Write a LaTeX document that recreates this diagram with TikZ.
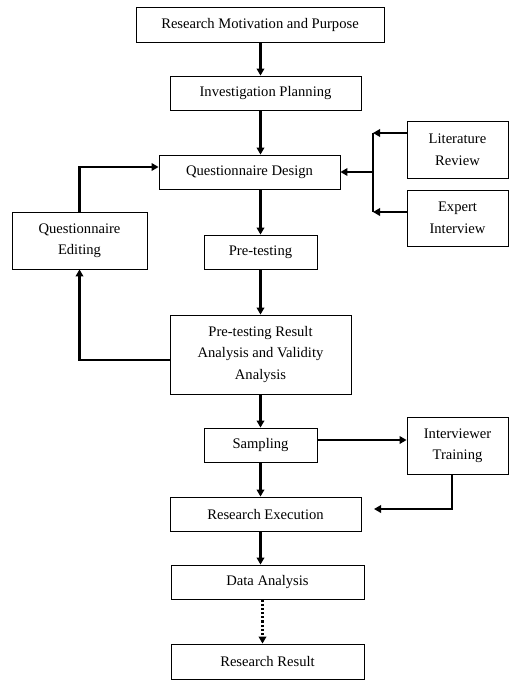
\documentclass[tikz,border=0pt]{standalone}
\usepackage{fontspec}
\setmainfont{Liberation Serif}
\usetikzlibrary{arrows.meta}
\begin{document}
\begin{tikzpicture}[x=1pt,y=-1pt,
  box/.style={draw, line width=0.8pt, inner sep=0pt, align=center, font=\fontsize{14.6}{21.5}\selectfont},
  arr/.style={line width=2.2pt, -{Triangle[length=7pt,width=7.5pt]}},
  dotarr/.style={line width=2.2pt, dotted, -{Triangle[length=7pt,width=7.5pt]}},
  bar/.style={line width=2.2pt}]
\useasboundingbox (0,0) rectangle (527,691);
\node[box, minimum width=248pt, minimum height=35pt] (rm) at (260,24.5) {Research Motivation and Purpose};
\node[box, minimum width=191pt, minimum height=34pt] (ip) at (265.5,93) {Investigation Planning};
\node[box, minimum width=181pt, minimum height=34pt] (qd) at (249.5,172) {Questionnaire Design};
\node[box, minimum width=101pt, minimum height=57pt] (lr) at (457.5,149.5) {Literature\\Review};
\node[box, minimum width=101pt, minimum height=56pt] (ei) at (457.5,218) {Expert\\Interview};
\node[box, minimum width=135pt, minimum height=57pt] (qe) at (79.5,240.5) {Questionnaire\\Editing};
\node[box, minimum width=113pt, minimum height=34pt] (pt) at (260.5,252) {Pre-testing};
\node[box, minimum width=181pt, minimum height=79pt] (pr) at (260.5,354.5) {Pre-testing Result\\Analysis and Validity\\Analysis};
\node[box, minimum width=113pt, minimum height=34pt] (sa) at (260.5,445) {Sampling};
\node[box, minimum width=101pt, minimum height=57pt] (it) at (457.5,445.5) {Interviewer\\Training};
\node[box, minimum width=191pt, minimum height=34pt] (re) at (265.5,514) {Research Execution};
\node[box, minimum width=193pt, minimum height=34pt] (da) at (267.5,582) {Data Analysis};
\node[box, minimum width=193pt, minimum height=35pt] (rr) at (267.5,661.5) {Research Result};
% main flow
\coordinate (mx) at (260.5,0);
\draw[arr] (rm.south -| mx) -- (ip.north -| mx);
\draw[arr] (ip.south -| mx) -- (qd.north -| mx);
\draw[arr] (qd.south -| mx) -- (pt.north -| mx);
\draw[arr] (pt.south -| mx) -- (pr.north -| mx);
\draw[arr] (pr.south -| mx) -- (sa.north -| mx);
\draw[arr] (sa.south -| mx) -- (re.north -| mx);
\draw[arr] (re.south -| mx) -- (da.north -| mx);
\coordinate (dx) at (262.5,0);
\draw[dotarr] (da.south -| dx) -- (rr.north -| dx);
% inputs to design
\coordinate (b1) at (373,133);
\coordinate (b2) at (373,212);
\coordinate (b3) at (373,172);
\draw[arr] (lr.west |- b1) -- (b1);
\draw[arr] (ei.west |- b2) -- (b2);
\draw[bar] (b1) -- (b2);
\draw[arr] (b3) -- (qd.east |- b3);
% editing loop
\draw[arr] ([yshift=-5.5pt]pr.west) -| (qe.south);
\draw[arr] (qe.north) |- ([yshift=5pt]qd.west);
% interviewer training
\draw[arr] ([yshift=5pt]sa.east) -- ([yshift=5pt]sa.east -| it.west);
\coordinate (c1) at (374,509);
\draw[arr] ([xshift=-5.5pt]it.south) |- (c1);
\end{tikzpicture}
\end{document}
